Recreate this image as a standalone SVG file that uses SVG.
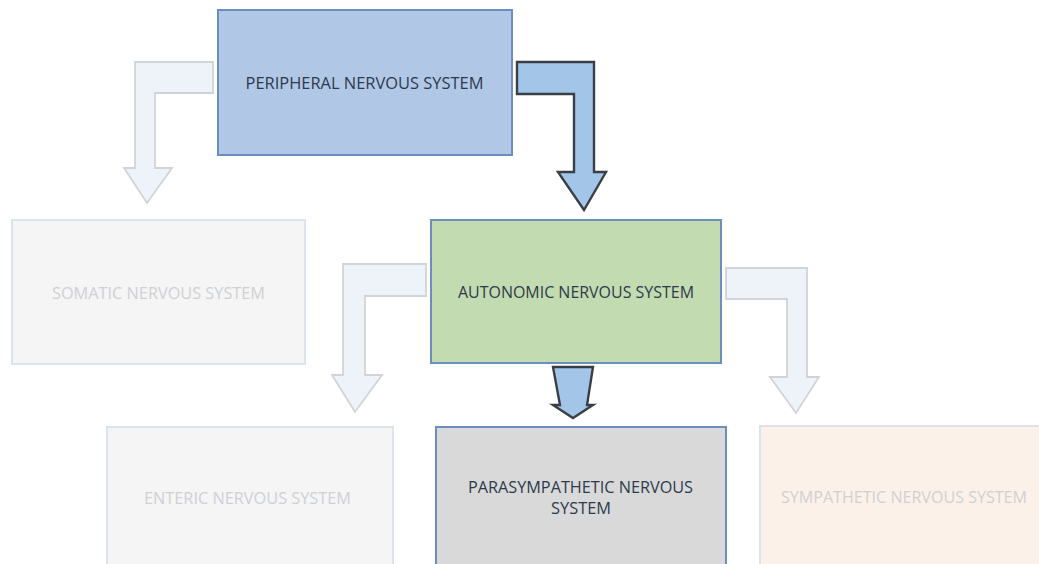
<svg xmlns="http://www.w3.org/2000/svg" width="1039" height="564" viewBox="0 0 1039 564">
<style>
.box{stroke-width:2}
.main{stroke:#6c8ebf}
.faded{stroke:#dde3ed}
.t{font-family:"Open Sans","Liberation Sans",sans-serif;font-size:16px;text-anchor:middle}
.dark{fill:#2d394d}
.light{fill:#cfd0d3}
.fa{fill:#eef3fa;stroke:#d0d3d8;stroke-width:1.8;stroke-linejoin:miter}
.ba{fill:#a3c6e8;stroke:#3a3f45;stroke-width:2.4;stroke-linejoin:miter}
</style>
<rect width="1039" height="564" fill="#ffffff"/>
<g id="connectors">
<path class="fa" d="M213,62 L135,62 L135,168 L124,168 L147,203 L172,168 L155,168 L155,93 L213,93 Z"/>
<path class="ba" d="M517,62 L594,62 L594,172 L606,172 L584,210 L558,172 L574,172 L574,94 L517,94 Z"/>
<path class="fa" d="M426,264 L343,264 L343,375 L332,375 L355,412 L382,375 L365,375 L365,296 L426,296 Z"/>
<path class="fa" d="M726,268 L807,268 L807,377 L819,377 L796,413 L770,377 L787,377 L787,299 L726,299 Z"/>
<path class="ba" d="M553,367 L593,367 L587,405 L593,405 L573,418 L553,405 L560,405 Z"/>
</g>
<g id="peripheral">
<rect class="box main" x="218" y="10" width="294" height="145" fill="#b0c8e6"/>
<text class="t dark" x="364.5" y="89" textLength="238" lengthAdjust="spacingAndGlyphs">PERIPHERAL NERVOUS SYSTEM</text>
</g>
<g id="somatic">
<rect class="box faded" x="12" y="220" width="293" height="144" fill="#f5f5f5"/>
<text class="t light" x="158.5" y="299" textLength="213" lengthAdjust="spacingAndGlyphs">SOMATIC NERVOUS SYSTEM</text>
</g>
<g id="autonomic">
<rect class="box main" x="431" y="220" width="290" height="143" fill="#c3dbb0"/>
<text class="t dark" x="576" y="298" textLength="236" lengthAdjust="spacingAndGlyphs">AUTONOMIC NERVOUS SYSTEM</text>
</g>
<g id="enteric">
<rect class="box faded" x="107" y="427" width="286" height="150" fill="#f5f5f5"/>
<text class="t light" x="247.5" y="504" textLength="207" lengthAdjust="spacingAndGlyphs">ENTERIC NERVOUS SYSTEM</text>
</g>
<g id="parasympathetic">
<rect class="box main" x="436" y="427" width="290" height="150" fill="#d9d9d9"/>
<text class="t dark" x="580.5" y="493" textLength="225" lengthAdjust="spacingAndGlyphs">PARASYMPATHETIC NERVOUS</text>
<text class="t dark" x="581" y="514" textLength="60" lengthAdjust="spacingAndGlyphs">SYSTEM</text>
</g>
<g id="sympathetic">
<rect class="box faded" x="760" y="426" width="300" height="150" fill="#fcf1e9"/>
<text class="t light" x="904" y="503" textLength="246" lengthAdjust="spacingAndGlyphs">SYMPATHETIC NERVOUS SYSTEM</text>
</g>
</svg>
